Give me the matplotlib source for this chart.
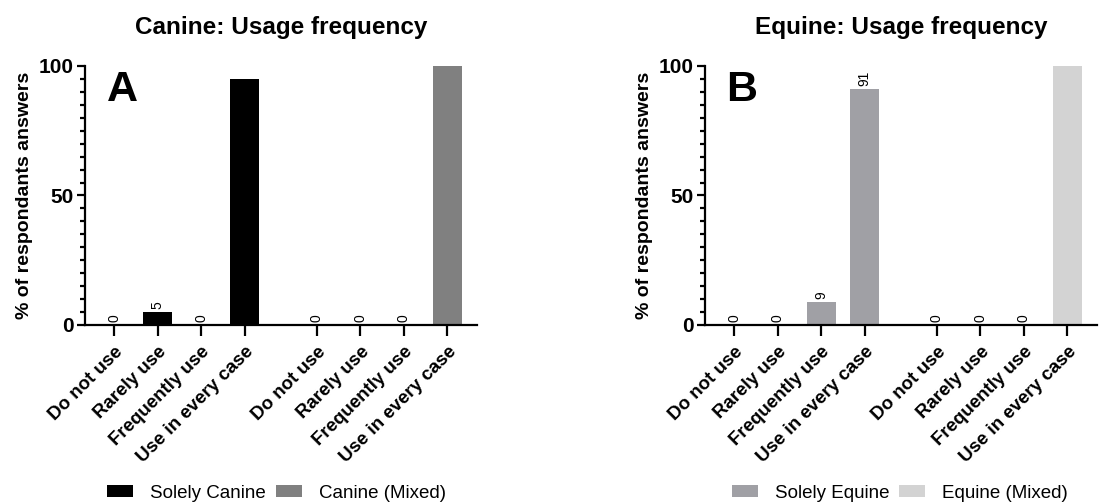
import numpy as np
import matplotlib
matplotlib.use("Agg")
from matplotlib import pyplot as plt
from matplotlib.patches import Patch
from matplotlib.ticker import MultipleLocator

plt.rcParams['font.family'] = ['Liberation Sans', 'DejaVu Sans']

# Answer categories (repeated for each group of respondents)
categories = ["Do not use", "Rarely use", "Frequently use", "Use in every case"]

# % of respondents answers
canine_solely = [0, 5, 0, 95]
canine_mixed = [0, 0, 0, 100]
equine_solely = [0, 0, 9, 91]
equine_mixed = [0, 0, 0, 100]

panels = [
    ("A", "Canine: Usage frequency", canine_solely, canine_mixed,
     "Solely Canine", "Canine (Mixed)", "#000000", "#808080"),
    ("B", "Equine: Usage frequency", equine_solely, equine_mixed,
     "Solely Equine", "Equine (Mixed)", "#A0A0A5", "#D3D3D3"),
]

GAP = 1.66  # extra space between the two groups
BAR_W = 0.67

fig = plt.figure(figsize=(11.05, 5.04), dpi=100)
lefts = [0.0769, 0.638]
legend_x = [107 / 1105, 732 / 1105]

for left, lx, (letter, title, solely, mixed, lab1, lab2, c1, c2) in zip(lefts, legend_x, panels):
    ax = fig.add_axes([left, 0.3552, 0.3548, 0.5139])
    x1 = np.arange(len(categories))
    x2 = x1 + len(categories) + GAP - 1
    ax.bar(x1, solely, width=BAR_W, color=c1)
    ax.bar(x2, mixed, width=BAR_W, color=c2)

    # value labels, only where they fit below the top of the axis
    for xs, vals in ((x1, solely), (x2, mixed)):
        for x, v in zip(xs, vals):
            if v + 8 <= 100:
                ax.text(x, v + 1.2, str(v), rotation=90, ha="center", va="bottom",
                        fontsize=10)

    ax.set_xlim(-0.67, x2[-1] + 0.68)
    ax.set_ylim(0, 100)
    ax.set_xticks(np.concatenate([x1, x2]))
    ax.set_xticklabels(categories * 2, rotation=45, ha="right",
                       rotation_mode="anchor", fontsize=13.5, fontweight="bold")
    ax.yaxis.set_major_locator(MultipleLocator(50))
    ax.yaxis.set_minor_locator(MultipleLocator(5))
    for lab in ax.get_yticklabels():
        lab.set_fontweight("bold")
        lab.set_fontsize(15)

    for s in ("top", "right"):
        ax.spines[s].set_visible(False)
    for s in ("left", "bottom"):
        ax.spines[s].set_linewidth(1.6)
    ax.tick_params(axis="x", length=8, width=1.6, pad=5)
    ax.tick_params(axis="y", which="major", length=6, width=1.6, pad=2)
    ax.tick_params(axis="y", which="minor", length=3.5, width=1.6)

    ax.set_ylabel("% of respondants answers", fontsize=14, fontweight="bold", labelpad=4)
    ax.set_title(title, fontsize=17.5, fontweight="bold", pad=23)
    ax.text(0.055, 0.985, letter, transform=ax.transAxes, fontsize=31,
            fontweight="bold", ha="left", va="top")

    handles = [Patch(facecolor=c1), Patch(facecolor=c2)]
    ax.legend(handles, [lab1, lab2], loc="center left",
              bbox_to_anchor=(lx, 0.0218), bbox_transform=fig.transFigure, ncol=2,
              frameon=False, fontsize=13.5, handlelength=1.39, handleheight=0.55,
              handletextpad=0.9, columnspacing=0.53, borderpad=0, borderaxespad=0)

fig.savefig("out.png", dpi=100)
